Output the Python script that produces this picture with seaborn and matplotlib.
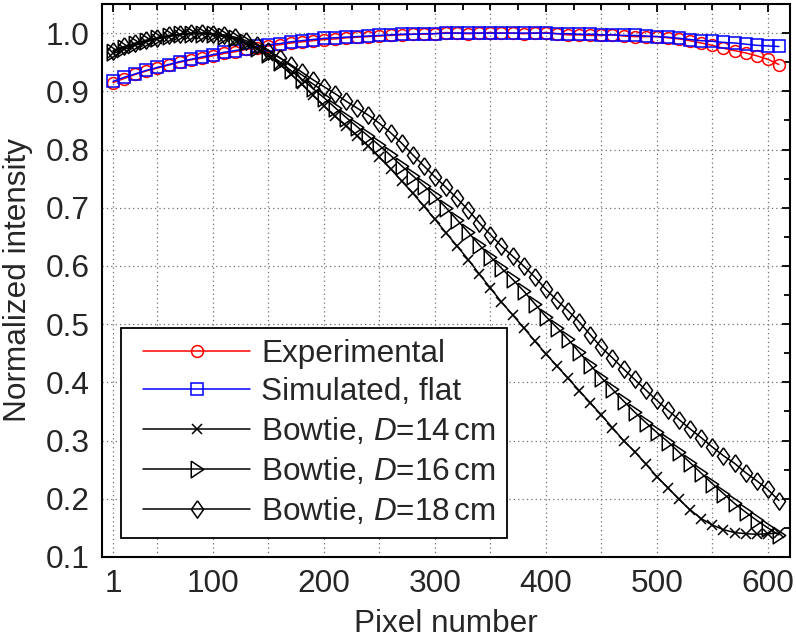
import numpy as np
import pandas as pd
import matplotlib
matplotlib.use("Agg")
import matplotlib.pyplot as plt
import seaborn as sns
from matplotlib.ticker import MultipleLocator, FixedLocator
from matplotlib.lines import Line2D
from matplotlib.legend_handler import HandlerLine2D

# pixel positions (one marker every 10 pixels)
pixels = list(range(10, 620, 10))

experimental = [
    0.915, 0.922, 0.929, 0.935, 0.940, 0.945, 0.950, 0.954, 0.957, 0.961,
    0.965, 0.968, 0.972, 0.975, 0.978, 0.980, 0.983, 0.985, 0.987, 0.989,
    0.990, 0.992, 0.993, 0.994, 0.995, 0.996, 0.997, 0.998, 0.998, 0.999,
    1.001, 1.000, 0.999, 1.000, 1.001, 1.000, 1.000, 0.999, 1.000, 1.001,
    0.999, 0.997, 0.997, 0.996, 0.996, 0.997, 0.995, 0.994, 0.994, 0.994,
    0.992, 0.990, 0.987, 0.983, 0.979, 0.974, 0.970, 0.966, 0.961, 0.955,
    0.946,
]
simulated_flat = [
    0.917, 0.924, 0.930, 0.936, 0.941, 0.946, 0.951, 0.955, 0.959, 0.963,
    0.967, 0.970, 0.973, 0.977, 0.980, 0.982, 0.985, 0.987, 0.989, 0.991,
    0.992, 0.993, 0.994, 0.995, 0.996, 0.997, 0.998, 0.998, 0.999, 0.999,
    1.000, 1.000, 1.000, 1.000, 1.000, 1.000, 1.000, 1.000, 1.000, 1.000,
    0.999, 0.999, 0.998, 0.998, 0.997, 0.997, 0.996, 0.996, 0.995, 0.994,
    0.993, 0.991, 0.989, 0.987, 0.986, 0.984, 0.983, 0.981, 0.979, 0.978,
    0.977,
]
bowtie_14 = [
    0.965, 0.972, 0.979, 0.985, 0.990, 0.994, 0.997, 0.999, 0.999, 0.997,
    0.994, 0.989, 0.982, 0.973, 0.961, 0.947, 0.930, 0.912, 0.893, 0.875,
    0.857, 0.841, 0.824, 0.806, 0.787, 0.767, 0.746, 0.725, 0.703, 0.680,
    0.657, 0.634, 0.611, 0.586, 0.562, 0.538, 0.516, 0.494, 0.471, 0.449,
    0.428, 0.407, 0.386, 0.365, 0.344, 0.322, 0.300, 0.281, 0.260, 0.238,
    0.219, 0.199, 0.181, 0.166, 0.155, 0.147, 0.142, 0.140, 0.139, 0.140,
    0.141,
]
bowtie_16 = [
    0.968, 0.975, 0.981, 0.987, 0.991, 0.995, 0.998, 0.999, 0.999, 0.998,
    0.995, 0.991, 0.984, 0.975, 0.964, 0.951, 0.936, 0.921, 0.905, 0.889,
    0.872, 0.855, 0.839, 0.823, 0.807, 0.790, 0.772, 0.755, 0.738, 0.720,
    0.700, 0.679, 0.658, 0.636, 0.616, 0.596, 0.577, 0.557, 0.535, 0.513,
    0.494, 0.474, 0.452, 0.430, 0.408, 0.388, 0.368, 0.349, 0.331, 0.314,
    0.298, 0.280, 0.262, 0.244, 0.226, 0.209, 0.192, 0.177, 0.163, 0.150,
    0.138,
]
bowtie_18 = [
    0.970, 0.977, 0.983, 0.988, 0.992, 0.996, 0.998, 1.000, 1.000, 0.999,
    0.997, 0.993, 0.987, 0.979, 0.969, 0.958, 0.946, 0.933, 0.920, 0.908,
    0.896, 0.883, 0.871, 0.859, 0.845, 0.829, 0.811, 0.791, 0.772, 0.753,
    0.735, 0.716, 0.696, 0.674, 0.654, 0.634, 0.617, 0.600, 0.581, 0.560,
    0.541, 0.523, 0.504, 0.482, 0.460, 0.442, 0.423, 0.405, 0.387, 0.369,
    0.352, 0.336, 0.320, 0.305, 0.289, 0.274, 0.261, 0.245, 0.231, 0.216,
    0.197,
]

x_tick_pos = [10, 100, 200, 300, 400, 500, 600]
x_tick_labels = ["1", "100", "200", "300", "400", "500", "600"]

sns.set_style("white")
plt.rcParams["font.family"] = ["Liberation Sans", "DejaVu Sans"]
plt.rcParams["mathtext.fontset"] = "custom"
plt.rcParams["mathtext.rm"] = "Liberation Sans"
plt.rcParams["mathtext.it"] = "Liberation Sans:italic"

FS = 22.7

# marker shapes: slightly narrow diamond and right triangle like the original
diamond = [(0, 1), (0.7, 0), (0, -1), (-0.7, 0), (0, 1)]
tri_right = [(-0.75, 1), (0.75, 0), (-0.75, -1), (-0.75, 1)]

fig, ax = plt.subplots(figsize=(7.96, 6.41), dpi=100)
fig.subplots_adjust(left=102 / 796, right=790 / 796, bottom=1 - 557 / 641, top=1 - 4 / 641)

# dotted grid
for gx in [10] + list(range(50, 620, 50)):
    ax.axvline(gx, color="#707070", lw=0.9, ls=(0, (1, 2.5)), zorder=0)
for gy in np.arange(0.2, 1.01, 0.1):
    ax.axhline(gy, color="#707070", lw=0.9, ls=(0, (1, 2.5)), zorder=0)

series = [
    ("Experimental", experimental, "#ff0000", "o", 8.5),
    ("Simulated, flat", simulated_flat, "#0000ff", "s", 8.0),
    (r"Bowtie, $D$=14$\,$cm", bowtie_14, "black", "x", 7.5),
    (r"Bowtie, $D$=16$\,$cm", bowtie_16, "black", tri_right, 12.0),
    (r"Bowtie, $D$=18$\,$cm", bowtie_18, "black", diamond, 12.5),
]
for name, vals, col, mk, ms in series:
    sns.lineplot(x=pixels, y=vals, color=col, marker=mk, markersize=ms,
                 mec=col, mfc="none", mew=1.1, lw=1.1, label=name, ax=ax)

ax.set_xlim(0, 620)
ax.set_ylim(0.1, 1.05)
ax.xaxis.set_major_locator(FixedLocator(x_tick_pos))
ax.set_xticklabels(x_tick_labels)
ax.xaxis.set_minor_locator(FixedLocator([v for v in range(25, 620, 25) if v % 100]))
ax.yaxis.set_major_locator(MultipleLocator(0.1))
ax.yaxis.set_minor_locator(MultipleLocator(0.05))
ax.tick_params(which="both", direction="in", top=True, right=True, width=1.3,
               labelsize=FS, color="black")
ax.tick_params(which="major", length=6, pad=9)
ax.tick_params(which="minor", length=4)
for s in ax.spines.values():
    s.set_linewidth(1.5)
    s.set_color("black")

ax.set_xlabel("Pixel number", fontsize=FS, labelpad=7)
ax.set_ylabel("Normalized intensity", fontsize=FS, labelpad=9)

leg = ax.legend(loc="lower left", bbox_to_anchor=(0.0276, 0.0344), borderaxespad=0,
                fontsize=FS, frameon=True, fancybox=False, framealpha=1,
                edgecolor="black", handlelength=3.75, handletextpad=0.35,
                borderpad=0.35, labelspacing=0.28,
                handler_map={Line2D: HandlerLine2D(xpad=0.35)})
leg.get_frame().set_linewidth(1.3)

plt.savefig("out.png", dpi=100)
plt.close(fig)
